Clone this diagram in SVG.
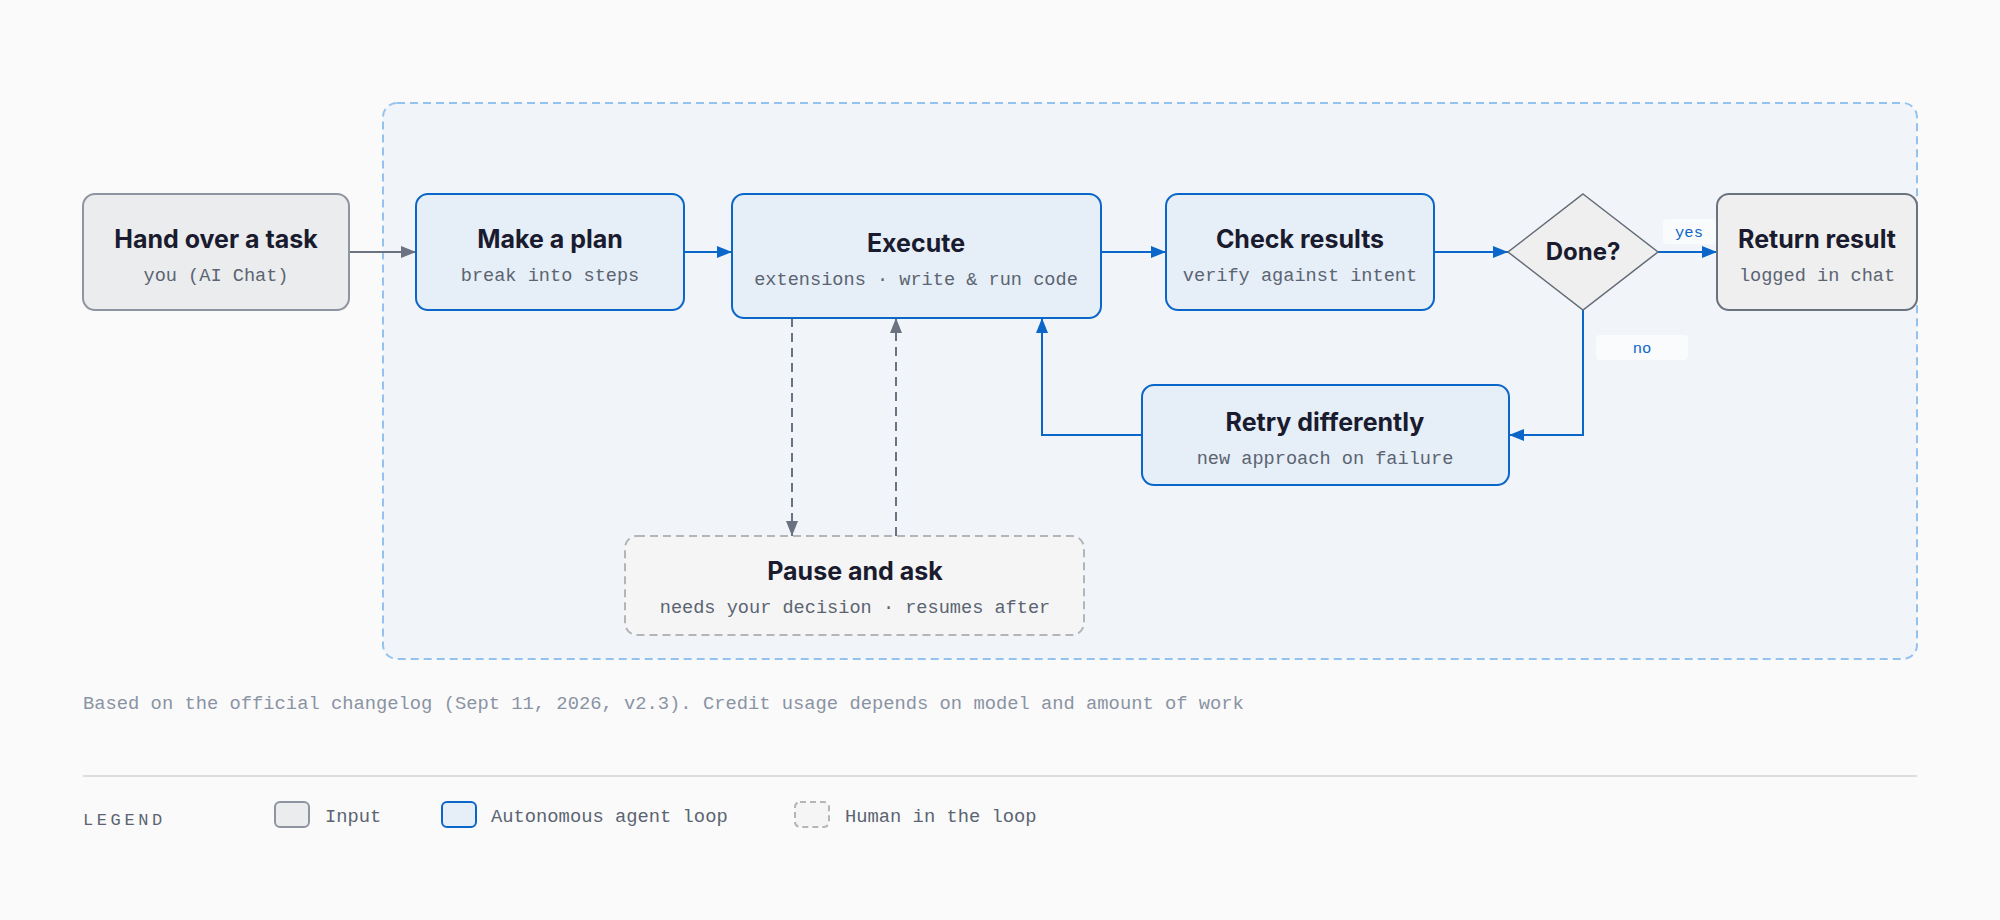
<svg xmlns="http://www.w3.org/2000/svg" width="2000" height="920" viewBox="0 0 2000 920">
<style>
.title{font-family:Inter,"Noto Sans","Liberation Sans",sans-serif;font-weight:700;font-size:25px;fill:#1a1b2e;text-anchor:middle}
.sub{font-family:"Liberation Mono","DejaVu Sans Mono",monospace;font-size:18.6px;fill:#5b6472;text-anchor:middle}
.input{fill:#ebecee;stroke:#8e95a1;stroke-width:2}
.agent{fill:#e6eef7;stroke:#0b66c9;stroke-width:2}
.human{fill:#f5f5f5;stroke:#b3b5b9;stroke-width:2;stroke-dasharray:8 5}
.out{fill:#efefef;stroke:#6b7280;stroke-width:2}
.blue{stroke:#0b66c9;stroke-width:2;fill:none}
.gray{stroke:#6b7280;stroke-width:2;fill:none}
.dash{stroke:#6b7280;stroke-width:2;fill:none;stroke-dasharray:9 6}
.lbl{font-family:"Liberation Mono","DejaVu Sans Mono",monospace;font-size:15.5px;fill:#0b66c9;text-anchor:middle}
.note{font-family:"Liberation Mono","DejaVu Sans Mono",monospace;font-size:18.8px;fill:#8a93a3}
.leg{font-family:"Liberation Mono","DejaVu Sans Mono",monospace;font-size:18.8px;fill:#5b6472}
</style>
<defs>
<marker id="ab" viewBox="0 0 15 12" markerUnits="userSpaceOnUse" markerWidth="15" markerHeight="12" refX="15" refY="6" orient="auto"><path d="M0,0 L15,6 L0,12 z" fill="#0b66c9"/></marker>
<marker id="ag" viewBox="0 0 15 12" markerUnits="userSpaceOnUse" markerWidth="15" markerHeight="12" refX="15" refY="6" orient="auto"><path d="M0,0 L15,6 L0,12 z" fill="#6b7280"/></marker>
</defs>
<rect width="2000" height="920" fill="#fafafa"/>
<rect id="container" x="383" y="103" width="1534" height="556" rx="14" fill="#f1f5f9" stroke="#94c2ee" stroke-width="2" stroke-dasharray="8 5"/>
<g id="connectors">
<line class="gray" x1="349" y1="252" x2="416" y2="252" marker-end="url(#ag)"/>
<line class="blue" x1="684" y1="252" x2="732" y2="252" marker-end="url(#ab)"/>
<line class="blue" x1="1101" y1="252" x2="1166" y2="252" marker-end="url(#ab)"/>
<line class="blue" x1="1434" y1="252" x2="1508" y2="252" marker-end="url(#ab)"/>
<line class="blue" x1="1658" y1="252" x2="1717" y2="252" marker-end="url(#ab)"/>
<polyline class="blue" points="1583,310 1583,435 1509,435" marker-end="url(#ab)"/>
<polyline class="blue" points="1142,435 1042,435 1042,318" marker-end="url(#ab)"/>
<line class="dash" x1="792" y1="318" x2="792" y2="536" marker-end="url(#ag)"/>
<line class="dash" x1="896" y1="536" x2="896" y2="318" marker-end="url(#ag)"/>
<rect x="1663" y="219" width="53" height="25" rx="4" fill="#fafbfc"/>
<text class="lbl" x="1689" y="237">yes</text>
<rect x="1596" y="335" width="92" height="25" rx="4" fill="#fafbfc"/>
<text class="lbl" x="1642" y="353">no</text>
</g>
<g id="hand">
<rect class="input" x="83" y="194" width="266" height="116" rx="12"/>
<text class="title" x="216" y="248">Hand over a task</text>
<text class="sub" x="216" y="281">you (AI Chat)</text>
</g>
<g id="plan">
<rect class="agent" x="416" y="194" width="268" height="116" rx="12"/>
<text class="title" x="550" y="248">Make a plan</text>
<text class="sub" x="550" y="281">break into steps</text>
</g>
<g id="execute">
<rect class="agent" x="732" y="194" width="369" height="124" rx="12"/>
<text class="title" x="916" y="252">Execute</text>
<text class="sub" x="916" y="285">extensions · write &amp; run code</text>
</g>
<g id="check">
<rect class="agent" x="1166" y="194" width="268" height="116" rx="12"/>
<text class="title" x="1300" y="248">Check results</text>
<text class="sub" x="1300" y="281">verify against intent</text>
</g>
<g id="done">
<polygon class="out" points="1583,194 1658,252 1583,310 1508,252" style="stroke:#636b76;stroke-width:1.5"/>
<text class="title" x="1583" y="260" style="font-size:24px">Done?</text>
</g>
<g id="return">
<rect class="out" x="1717" y="194" width="200" height="116" rx="12"/>
<text class="title" x="1817" y="248">Return result</text>
<text class="sub" x="1817" y="281">logged in chat</text>
</g>
<g id="retry">
<rect class="agent" x="1142" y="385" width="367" height="100" rx="12"/>
<text class="title" x="1325" y="431">Retry differently</text>
<text class="sub" x="1325" y="464">new approach on failure</text>
</g>
<g id="pause">
<rect class="human" x="625" y="536" width="459" height="99" rx="12"/>
<text class="title" x="855" y="580">Pause and ask</text>
<text class="sub" x="855" y="613">needs your decision · resumes after</text>
</g>
<text class="note" x="83" y="709">Based on the official changelog (Sept 11, 2026, v2.3). Credit usage depends on model and amount of work</text>
<line x1="83" y1="776" x2="1917" y2="776" stroke="#dcdcdc" stroke-width="2"/>
<g id="legend">
<text class="leg" x="83" y="825" style="font-size:17px;letter-spacing:3.6px">LEGEND</text>
<rect class="input" x="275" y="802" width="34" height="25" rx="5"/>
<text class="leg" x="325" y="822">Input</text>
<rect class="agent" x="442" y="802" width="34" height="25" rx="5"/>
<text class="leg" x="491" y="822">Autonomous agent loop</text>
<rect class="human" x="795" y="802" width="34" height="25" rx="5" style="stroke-dasharray:6 4"/>
<text class="leg" x="845" y="822">Human in the loop</text>
</g>
</svg>
